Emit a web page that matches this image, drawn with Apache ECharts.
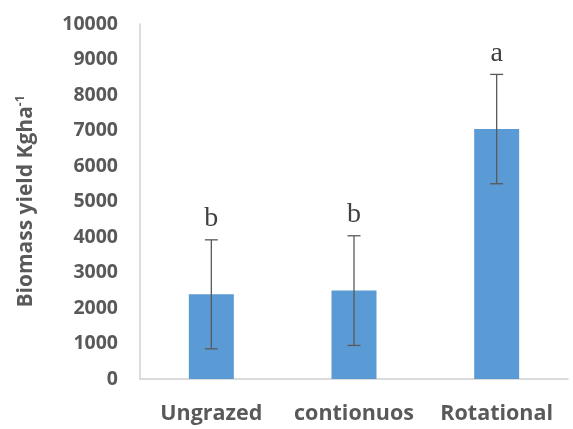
<!DOCTYPE html>
<html><head><meta charset="utf-8">
<script src="https://cdn.jsdelivr.net/npm/echarts@6/dist/echarts.min.js"></script>
<style>html,body{margin:0;padding:0;background:#fff}#c{width:573px;height:429px}</style>
</head><body><div id="c"></div>
<script>
const categories = ['Ungrazed', 'contionuos', 'Rotational'];
const values = [2385, 2490, 7040];
const errors = [1535, 1545, 1540];
const letters = ['b', 'b', 'a'];
const yTicks = [0, 1000, 2000, 3000, 4000, 5000, 6000, 7000, 8000, 9000, 10000];

const chart = echarts.init(document.getElementById('c'));
const errData = values.map((v, i) => [i, v - errors[i], v + errors[i], letters[i]]);
chart.setOption({
  animation: false,
  grid: {left: 140, right: 5, top: 24, bottom: 50},
  xAxis: {
    type: 'category', data: categories,
    axisLine: {lineStyle: {color: '#d0d0d0', width: 1.5}},
    axisTick: {show: false},
    axisLabel: {interval: 0, color: '#595959', fontFamily: 'Open Sans', fontWeight: 'bold', fontSize: 21.5, margin: 24}
  },
  yAxis: {
    type: 'value', min: yTicks[0], max: yTicks[yTicks.length - 1], interval: 1000,
    axisLine: {show: true, lineStyle: {color: '#d0d0d0', width: 1.5}},
    axisTick: {show: false},
    splitLine: {show: false},
    axisLabel: {formatter: v => String(v), color: '#595959', fontFamily: 'Open Sans', fontWeight: 'bold', fontSize: 19.5, margin: 22},
    name: '{n|Biomass yield Kgha}{s|-1}',
    nameLocation: 'middle', nameGap: 103, nameRotate: 90,
    nameTextStyle: {
      rich: {
        n: {color: '#595959', fontFamily: 'Open Sans', fontWeight: 'bold', fontSize: 21},
        s: {color: '#595959', fontFamily: 'Open Sans', fontWeight: 'bold', fontSize: 12, verticalAlign: 'top', padding: [0, 0, 10, 0]}
      }
    }
  },
  series: [
    {type: 'bar', data: values, barWidth: 45, itemStyle: {color: '#5b9bd5'}, z: 1},
    {
      type: 'custom', data: errData, z: 3,
      renderItem: function (params, api) {
        const x = api.value(0);
        const lo = api.coord([x, api.value(1)]);
        const hi = api.coord([x, api.value(2)]);
        const cap = 6.5;
        const st = {stroke: '#595959', lineWidth: 1.3};
        return {
          type: 'group', children: [
            {type: 'line', shape: {x1: lo[0], y1: lo[1], x2: hi[0], y2: hi[1]}, style: st},
            {type: 'line', shape: {x1: lo[0] - cap, y1: lo[1], x2: lo[0] + cap, y2: lo[1]}, style: st},
            {type: 'line', shape: {x1: hi[0] - cap, y1: hi[1], x2: hi[0] + cap, y2: hi[1]}, style: st},
            {type: 'text', style: {text: letters[params.dataIndex], x: hi[0], y: hi[1] - 7, textAlign: 'center', textVerticalAlign: 'bottom',
              fontFamily: 'Liberation Serif', fontSize: 28, fill: '#404040'}}
          ]
        };
      }
    }
  ]
});
</script></body></html>
